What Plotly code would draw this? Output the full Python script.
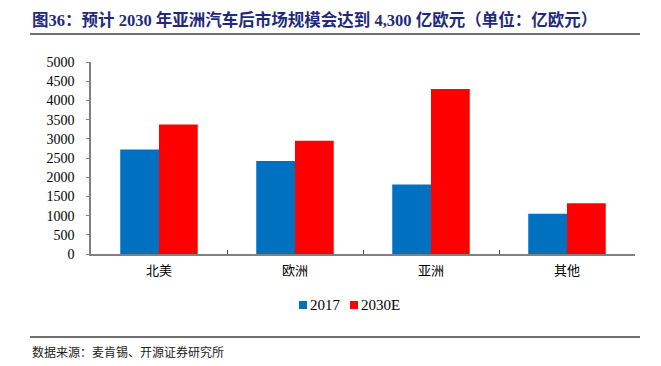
import plotly.graph_objects as go

categories = ["北美", "欧洲", "亚洲", "其他"]
series_names = ["2017", "2030E"]
series_colors = ["#0070C0", "#FF0000"]
values_2017 = [2720, 2420, 1810, 1050]
values_2030 = [3370, 2950, 4300, 1320]
y_ticks = [0, 500, 1000, 1500, 2000, 2500, 3000, 3500, 4000, 4500, 5000]

title_text = "图36：预计 2030 年亚洲汽车后市场规模会达到 4,300 亿欧元（单位：亿欧元）"
source_text = "数据来源：麦肯锡、开源证券研究所"

W, H = 661, 366
L, R, T, B = 91, 26, 62, 112
pw = W - L - R
ph = H - T - B

def px(x):
    return (x - L) / pw

def py(y):
    return (H - B - y) / ph

serif = "Liberation Serif, Noto Sans CJK SC"
cjk = "Liberation Serif, Noto Sans CJK SC"

fig = go.Figure()
fig.add_trace(go.Bar(name=series_names[0], x=categories, y=values_2017,
                     marker=dict(color=series_colors[0], line=dict(width=0))))
fig.add_trace(go.Bar(name=series_names[1], x=categories, y=values_2030,
                     marker=dict(color=series_colors[1], line=dict(width=0))))

fig.update_layout(
    width=W, height=H,
    margin=dict(l=L, r=R, t=T, b=B),
    paper_bgcolor="white", plot_bgcolor="white",
    barmode="group", bargap=0.43, bargroupgap=0,
    showlegend=False,
    font=dict(family=serif, color="#000000"),
)

fig.update_xaxes(
    type="category", range=[-0.5, 3.5],
    showline=True, linecolor="#808080", linewidth=1.5,
    ticks="inside", tickson="boundaries", ticklen=4, tickcolor="#404040",
    tickfont=dict(family=cjk, size=13, color="#000000"),
    ticklabelstandoff=4,
    showgrid=False, zeroline=False, fixedrange=True,
)
fig.update_yaxes(
    range=[0, 5000], tickvals=y_ticks, ticktext=[str(v) for v in y_ticks],
    showline=True, linecolor="#808080", linewidth=1.5,
    ticks="outside", ticklen=3, tickcolor="#808080",
    tickfont=dict(family=serif, size=14, color="#000000"),
    ticklabelstandoff=9,
    showgrid=False, zeroline=False, fixedrange=True,
)

# manual legend (symbol + label)
legend_pos = [(299, 308), (350, 359)]
for name, color, (sx, tx) in zip(series_names, series_colors, legend_pos):
    fig.add_shape(type="rect", xref="paper", yref="paper",
                  x0=px(sx), x1=px(sx + 8), y0=py(309), y1=py(301),
                  fillcolor=color, line=dict(width=0))
    fig.add_annotation(text=name, xref="paper", yref="paper",
                       x=px(tx), y=py(305), xanchor="left", yanchor="middle", showarrow=False,
                       font=dict(family=serif, size=15, color="#000000"))

fig.add_annotation(text="<b>" + title_text + "</b>", xref="paper", yref="paper",
                   x=px(30), y=py(20), xanchor="left", yanchor="middle", showarrow=False,
                   font=dict(family=serif, size=16.5, color="#1F2A7A"))
fig.add_annotation(text=source_text, xref="paper", yref="paper",
                   x=px(30), y=py(352), xanchor="left", yanchor="middle", showarrow=False,
                   font=dict(family=cjk, size=12, color="#222222"))

fig.add_shape(type="line", xref="paper", yref="paper",
              x0=px(30), x1=px(640), y0=py(34), y1=py(34),
              line=dict(color="#404040", width=1.5))
fig.add_shape(type="line", xref="paper", yref="paper",
              x0=px(30), x1=px(640), y0=py(337), y1=py(337),
              line=dict(color="#404040", width=1.5))

fig.write_html("out.html", config={"displayModeBar": False},
               post_script="document.body.style.margin='0';document.body.style.padding='0';")
